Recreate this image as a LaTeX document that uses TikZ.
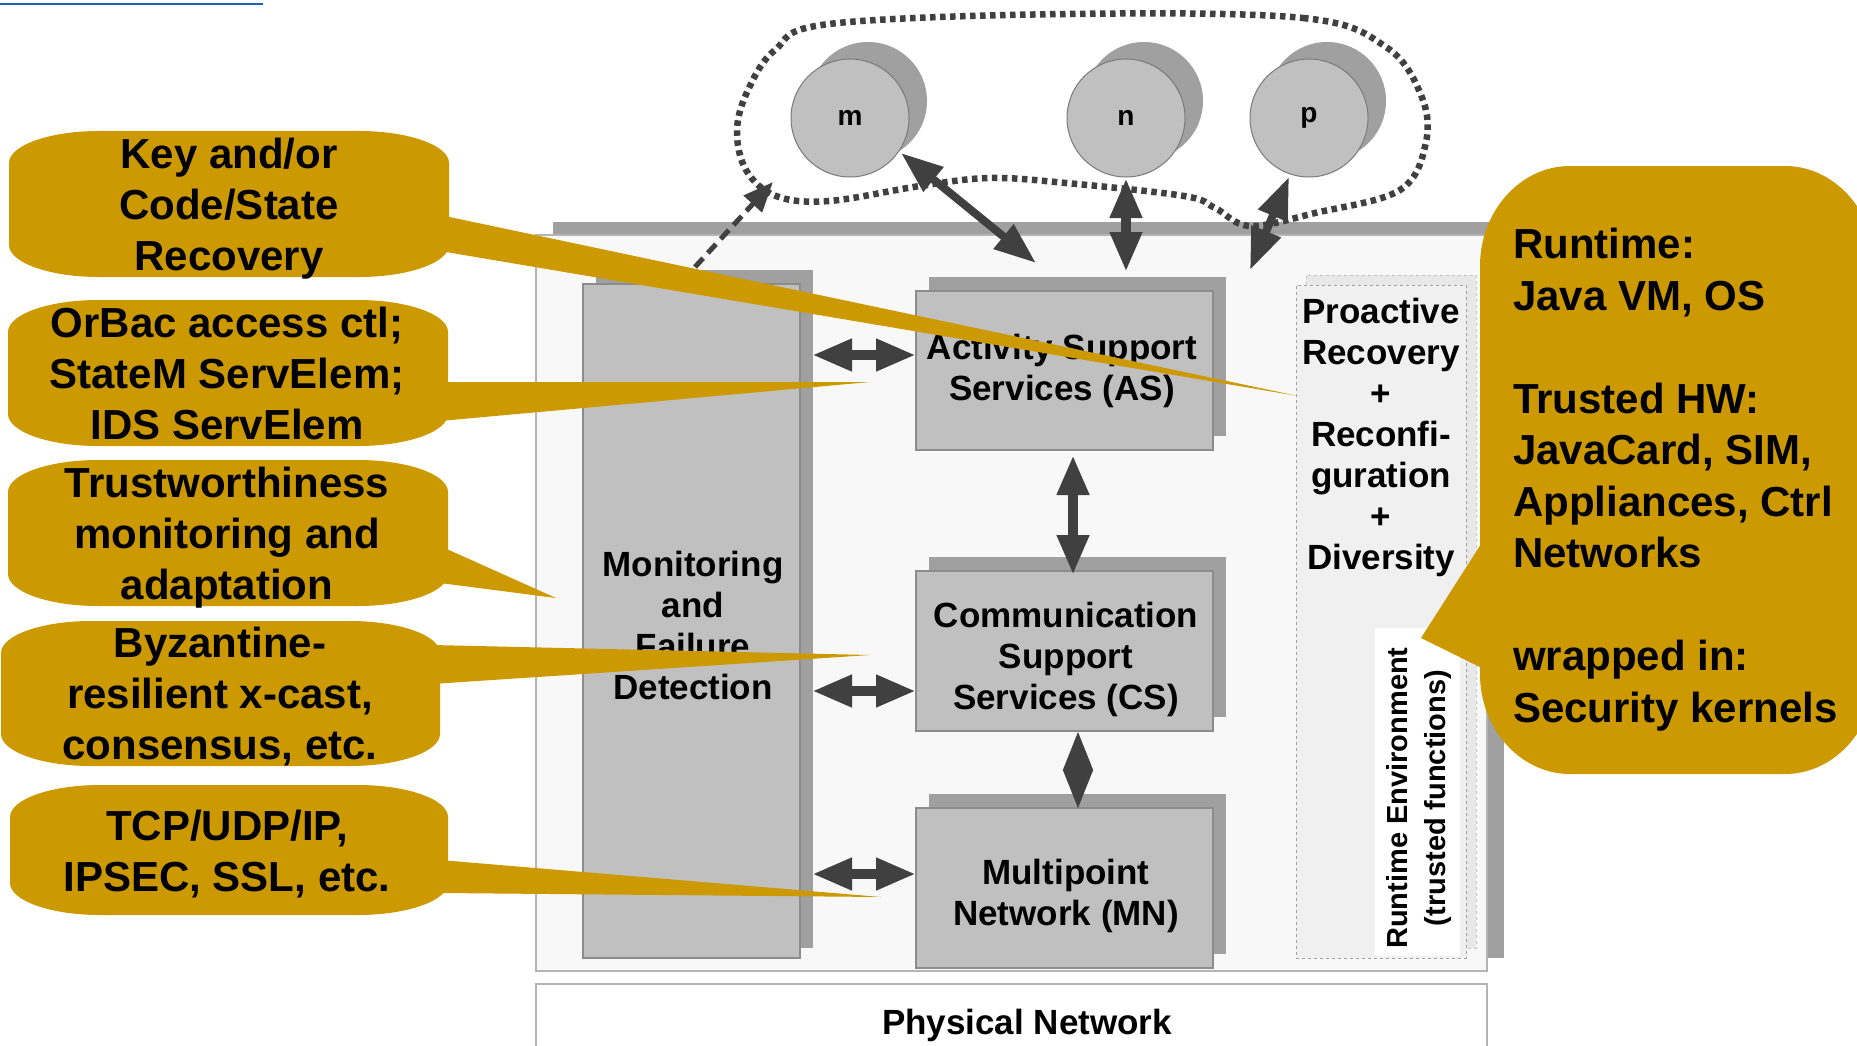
\documentclass[tikz,border=0pt]{standalone}
\usepackage{fontspec}
\setmainfont{Liberation Sans}
\usetikzlibrary{arrows.meta,shadows}

\definecolor{gold}{HTML}{CC9900}
\definecolor{boxgray}{HTML}{C0C0C0}
\definecolor{shadegray}{HTML}{A0A0A0}
\definecolor{edgegray}{HTML}{8C8C8C}
\definecolor{arrowgray}{HTML}{404040}
\definecolor{panelgray}{HTML}{F8F8F8}
\definecolor{paneledge}{HTML}{B4B4B4}
\definecolor{rtgray}{HTML}{F0F0F0}
\definecolor{rtshade}{HTML}{E8E8E8}
\definecolor{rtedge}{HTML}{A0A0A0}
\definecolor{circedge}{HTML}{7A7A7A}
\definecolor{linkblue}{HTML}{2060B0}

\newcommand\callfont{\fontsize{42}{51}\selectfont\bfseries}
\newcommand\rcallfont{\fontsize{42}{51.5}\selectfont\bfseries}
\newcommand\labfont{\fontsize{35}{41}\selectfont\bfseries}
\newcommand\rotfont{\fontsize{29}{38}\selectfont\bfseries}
\newcommand\cirfont{\fontsize{28}{30}\selectfont\bfseries}

% rounded callout body with elliptic corners: x1,y1,x2,y2,rx,ry
\newcommand\calloutshape[6]{%
  \fill[gold] (#1,#2+#6) .. controls (#1,#2+0.45*#6) and (#1+0.45*#5,#2) .. (#1+#5,#2)
    -- (#3-#5,#2) .. controls (#3-0.45*#5,#2) and (#3,#2+0.45*#6) .. (#3,#2+#6)
    -- (#3,#4-#6) .. controls (#3,#4-0.45*#6) and (#3-0.45*#5,#4) .. (#3-#5,#4)
    -- (#1+#5,#4) .. controls (#1+0.45*#5,#4) and (#1,#4-0.45*#6) .. (#1,#4-#6) -- cycle;}

\begin{document}
\begin{tikzpicture}[x=1pt,y=-1pt,
  panel/.style={draw=paneledge, line width=1.2pt, fill=panelgray, inner sep=0,
    general shadow={fill=shadegray, shadow xshift=17pt, shadow yshift=13pt}},
  layer/.style={draw=edgegray, line width=1.2pt, fill=boxgray, inner sep=0,
    general shadow={fill=shadegray, shadow xshift=13pt, shadow yshift=14pt}},
  rtbox/.style={draw=rtedge, dashed, line width=1pt, fill=rtgray, inner sep=0,
    general shadow={fill=rtshade, draw=rtedge!60, dashed, line width=1pt, shadow xshift=10pt, shadow yshift=10pt}},
  site/.style={circle, draw=circedge, line width=1pt, fill=boxgray, minimum size=118pt, inner sep=0,
    font=\cirfont, general shadow={fill=shadegray, shadow xshift=18pt, shadow yshift=17pt}},
  lab/.style={font=\labfont, align=center, inner sep=0},
  calltext/.style={font=\callfont, align=center, inner sep=0},
  dbl/.style={arrowgray, line width=10pt,
    {Triangle[length=40pt,width=30pt]}-{Triangle[length=40pt,width=30pt]}},
  dblslim/.style={arrowgray, line width=8pt,
    {Triangle[length=42pt,width=30pt]}-{Triangle[length=42pt,width=30pt]}},
  diamondlink/.style={arrowgray, line width=1pt,
    {Triangle[length=38pt,width=30pt]}-{Triangle[length=38pt,width=30pt]}},
  dasharrow/.style={arrowgray, line width=5pt, dash pattern=on 12pt off 7pt,
    -{Triangle[length=30pt,width=24pt]}},
  cloudline/.style={arrowgray, line width=6.5pt, dash pattern=on 5.5pt off 4.5pt}
]
\useasboundingbox (0,0) rectangle (1857,1046);
\clip (0,0) rectangle (1857,1046);
\fill[white] (0,0) rectangle (1857,1046);

% rule at the top left
\draw[linkblue, line width=2pt] (0,4) -- (263,4);

% node frame and physical network
\node[panel, minimum width=951pt, minimum height=736pt] (frame) at (1011.5,603) {};
\node[draw=paneledge, line width=1.2pt, fill=white, minimum width=951pt, minimum height=100pt, inner sep=0] (phys) at (1011.5,1034) {};
\node[font=\labfont, anchor=base, inner sep=0] (physlabel) at (1027,1034.5) {Physical Network};

% runtime environment column
\node[rtbox, minimum width=170pt, minimum height=673pt] (rt) at (1381,621.5) {};
\node[fill=white, minimum width=85pt, minimum height=328pt, inner sep=0] (rtstrip) at (1417.5,792) {};
\node[font=\rotfont, rotate=90, align=center, inner sep=0] (rtlabel) at (1419,798) {Runtime Environment\\(trusted functions)};
\node[lab] (prlabel) at (1381,437.5) {Proactive\\Recovery\\+\\Reconfi-\\guration\\+\\Diversity};

% monitoring column and service layers
\node[layer, general shadow={fill=shadegray, shadow xshift=12.5pt, shadow yshift=10.5pt},
  minimum width=217pt, minimum height=674pt] (mfd) at (691.5,621) {};
\node[lab] (mfdlabel) at (693,625) {Monitoring\\and\\Failure\\Detection};

\node[layer, minimum width=297pt, minimum height=159pt] (as) at (1064.5,370.5) {};
\node[lab] (aslabel) at (1062,370.7) {Activity Support\\Services (AS)};
\node[layer, minimum width=297pt, minimum height=160pt] (cs) at (1064.5,651) {};
\node[lab] (cslabel) at (1066,659) {Communication\\Support\\Services (CS)};
\node[layer, minimum width=297pt, minimum height=160pt] (mn) at (1064.5,888) {};
\node[lab] (mnlabel) at (1066,895.5) {Multipoint\\Network (MN)};

% remote sites
\node[site] (m) at (850,118) {m};
\node[site] (n) at (1126,118) {n};
\node[site] (p) at (1309,118) {p};

\draw[cloudline] plot[smooth cycle, tension=0.6] coordinates {
  (1066,14) (1303,18) (1386,47) (1421,95) (1426,142) (1400,190) (1315,213)
  (1250,226) (1215,208) (1184,196) (1066,183) (990,178) (920,186) (829,201)
  (776,196) (746,170) (737,130) (748,90) (775,50) (829,24)};

% connector end points
\coordinate (mlow) at (901,153);
\coordinate (astop) at (1036,263);
\coordinate (nlow) at (1126,178);
\coordinate (asup) at (1126,272);
\coordinate (plow) at (1289,177);
\coordinate (rttop) at (1250,270);
\coordinate (asbot) at (1073,455);
\coordinate (cstop) at (1073,575);
\coordinate (csbot) at (1078,732);
\coordinate (mntop) at (1078,808);
\coordinate (mfdas) at (812,355);
\coordinate (asleft) at (916,355);
\coordinate (mfdcs) at (812,691);
\coordinate (csleft) at (916,691);
\coordinate (mfdmn) at (812,874);
\coordinate (mnleft) at (916,874);
\coordinate (mfdtop) at (695,267);
\coordinate (cloudin) at (773,182);

\draw[dblslim] (mlow) -- (astop);
\draw[dbl] (nlow) -- (asup);
\draw[dblslim] (plow) -- (rttop);
\draw[dbl] (asbot) -- (cstop);
\draw[diamondlink] (csbot) -- (mntop);
\draw[dbl] (mfdas) -- (asleft);
\draw[dbl] (mfdcs) -- (csleft);
\draw[dbl] (mfdmn) -- (mnleft);
\draw[dasharrow] (mfdtop) -- (cloudin);

% callouts
\coordinate (tipkey) at (1298,396);
\coordinate (tiporbac) at (870,382);
\coordinate (tiptrust) at (556,598);
\coordinate (tipbyz) at (870,655);
\coordinate (tiptcp) at (881,897);
\coordinate (tiprt) at (1421,638);

\calloutshape{9}{131}{449}{277}{90}{32}
\fill[gold] (440,215) -- (tipkey) -- (440,251) -- cycle;
\calloutshape{8}{300}{448}{446}{90}{32}
\fill[gold] (440,382) -- (tiporbac) -- (440,421) -- cycle;
\calloutshape{8}{460}{448}{606}{90}{32}
\fill[gold] (440,546) -- (tiptrust) -- (440,583) -- cycle;
\calloutshape{1}{621}{440}{766}{90}{32}
\fill[gold] (432,645) -- (tipbyz) -- (432,684) -- cycle;
\calloutshape{10}{785}{448}{915}{90}{32}
\fill[gold] (440,860) -- (tiptcp) -- (440,893) -- cycle;
\calloutshape{1480}{166}{1875}{774}{90}{100}
\fill[gold] (1490,530) -- (tiprt) -- (1490,672) -- cycle;

\node[calltext] (keyrec) at (229,209) {Key and/or\\Code/State\\Recovery};
\node[calltext] (orbac) at (227,373) {OrBac access ctl;\\StateM ServElem;\\IDS ServElem};
\node[calltext] (trust) at (227,538) {Trustworthiness\\monitoring and\\adaptation};
\node[calltext] (byz) at (220,697) {Byzantine-\\resilient x-cast,\\consensus, etc.};
\node[calltext] (tcp) at (227,854) {TCP/UDP/IP,\\IPSEC, SSL, etc.};
\node[font=\rcallfont, align=left, anchor=north west, inner sep=0] (runtime) at (1513,228)
  {Runtime:\\Java VM, OS\\[51.5pt]Trusted HW:\\JavaCard, SIM,\\Appliances, Ctrl\\Networks\\[51.5pt]wrapped in:\\Security kernels};
\end{tikzpicture}
\end{document}
